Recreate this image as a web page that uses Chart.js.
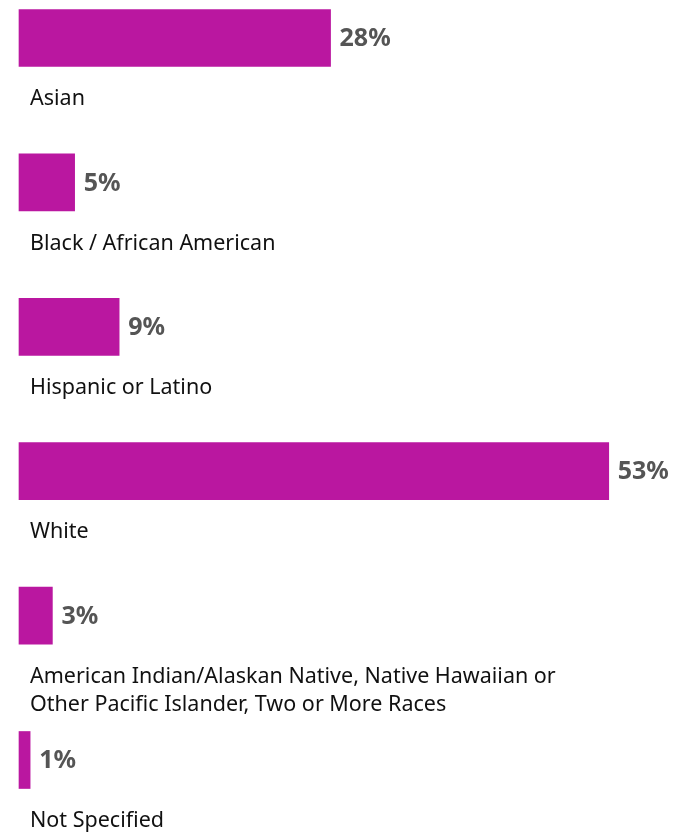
<!DOCTYPE html>
<html>
<head>
<meta charset="utf-8">
<script src="https://cdn.jsdelivr.net/npm/chart.js@4.4.0/dist/chart.umd.min.js"></script>
<style>
  html, body { margin: 0; padding: 0; background: #fff; }
  #wrap { position: relative; width: 677px; height: 836px; }
</style>
</head>
<body>
<div id="wrap"><canvas id="raceChart"></canvas></div>
<script>
// categorias e valores (%)
const categories = [
  ['Asian'],
  ['Black / African American'],
  ['Hispanic or Latino'],
  ['White'],
  ['American Indian/Alaskan Native, Native Hawaiian or', 'Other Pacific Islander, Two or More Races'],
  ['Not Specified']
];
const values = [28, 5, 9, 53, 3, 1];

const barColor = '#BA17A0';
const labelFont = '21.5px "Noto Sans", "Open Sans", sans-serif';
const valueFont = 'bold 25px "Noto Sans", "Open Sans", sans-serif';

// rótulos: valor à direita da barra, categoria embaixo
const labelPlugin = {
  id: 'barLabels',
  afterDatasetsDraw(chart) {
    const ctx = chart.ctx;
    const meta = chart.getDatasetMeta(0);
    ctx.save();
    meta.data.forEach((bar, i) => {
      ctx.textBaseline = 'middle';
      ctx.textAlign = 'left';
      ctx.font = valueFont;
      ctx.fillStyle = '#555555';
      ctx.fillText(values[i] + '%', bar.x + 9, bar.y + 1);

      ctx.font = labelFont;
      ctx.fillStyle = '#111111';
      categories[i].forEach((line, j) => {
        ctx.fillText(line, 30, bar.y + 61 + j * 28);
      });
    });
    ctx.restore();
  }
};

const ctx = document.getElementById('raceChart').getContext('2d');
new Chart(ctx, {
  type: 'bar',
  data: {
    labels: categories.map(c => c.join(' ')),
    datasets: [{
      data: values,
      backgroundColor: barColor,
      borderWidth: 0,
      barThickness: 57,
      clip: false
    }]
  },
  options: {
    indexAxis: 'y',
    responsive: true,
    maintainAspectRatio: false,
    animation: false,
    layout: { padding: { left: 19, right: 46, top: 38, bottom: 76 } },
    plugins: { legend: { display: false }, tooltip: { enabled: false } },
    scales: {
      x: { display: false, min: 0, max: 55 },
      y: { display: false, offset: false }
    }
  },
  plugins: [labelPlugin]
});
</script>
</body>
</html>
